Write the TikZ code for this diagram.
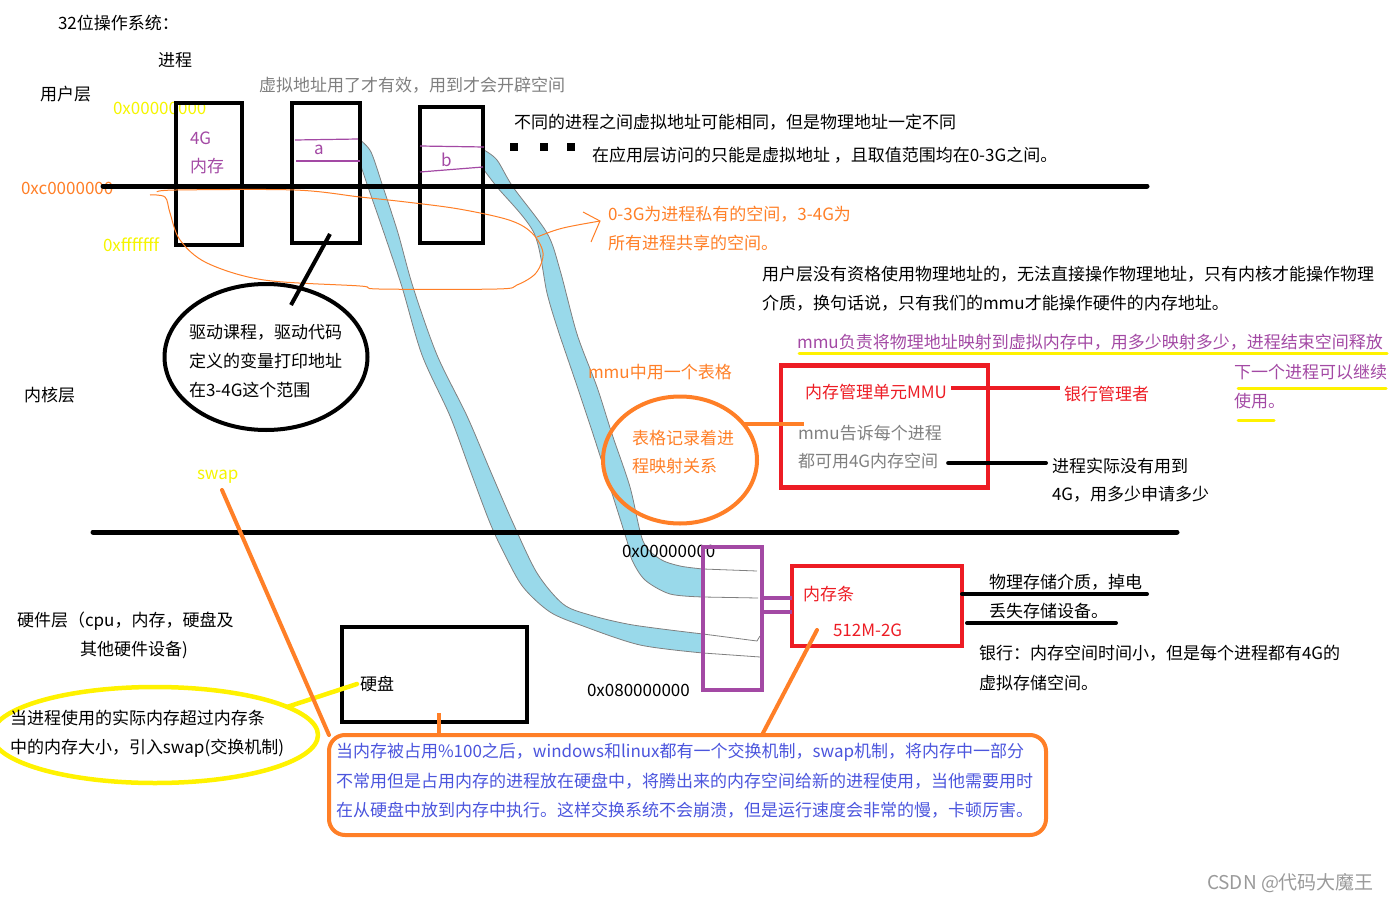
\documentclass[tikz,border=0pt]{standalone}
\usepackage{fontspec}
\setmainfont{Noto Sans CJK SC}
\usetikzlibrary{shapes.geometric}
\definecolor{cPur}{HTML}{A349A4}
\definecolor{cOr}{HTML}{FF7F27}
\definecolor{cRed}{HTML}{ED1C24}
\definecolor{cYel}{HTML}{FFF200}
\definecolor{cYtx}{HTML}{F5F500}
\definecolor{cBand}{HTML}{99D9EA}
\definecolor{cGray}{HTML}{7F7F7F}
\definecolor{cBlu}{HTML}{4B55DD}
\definecolor{cWm}{HTML}{9A9A9A}
\begin{document}
\begin{tikzpicture}[x=1pt,y=-1pt,
  every node/.style={inner sep=0pt,outer sep=0pt},
  t/.style={anchor=west,font=\fontsize{17}{20}\selectfont},
  frame/.style={draw,line width=4.5pt},
  band/.style={fill=cBand,draw=gray,line width=0.8pt},
  thk/.style={line width=5pt,line cap=round},
  orthin/.style={draw=cOr,line width=1pt},
  orthk/.style={draw=cOr,line width=4pt,line cap=round},
  ylthk/.style={draw=cYel,line width=4.5pt,line cap=round}]
\useasboundingbox (0,0) rectangle (1393,902);

% blue ribbons
\filldraw[band] plot[smooth,tension=0.5] coordinates {(360,140) (371,152) (383,187) (398,233) (413,287) (437,355) (467,416) (490,470) (513,523) (537,573) (563,604) (590,615) (633,625) (703,634)}
  -- plot[smooth,tension=0.5] coordinates {(703,653) (640,645) (583,626) (550,612) (523,587) (505,555) (490,523) (470,470) (450,416) (422,355) (402,287) (384,233) (368,187) (360,163)} -- cycle;
\filldraw[band] plot[smooth,tension=0.5] coordinates {(484,150) (497,160) (513,187) (547,233) (560,270) (577,334) (597,387) (612,434) (630,487) (643,541) (660,559) (680,566) (703,569)}
  -- plot[smooth,tension=0.5] coordinates {(703,597) (670,594) (645,580) (632,560) (627,541) (610,487) (593,434) (575,380) (558,330) (547,293) (534,233) (497,187) (484,170)} -- cycle;
\draw[gray,line width=0.8pt] (703,569) -- (757,571);
\draw[gray,line width=0.8pt] (703,597) -- (758,598);
\draw[gray,line width=0.8pt] (703,634) -- (757,641) -- (760,636);
\draw[gray,line width=0.8pt] (703,653) -- (760,657);

% top texts
\node[t] (title) at (58,23) {32位操作系统：};
\node[t] (proc) at (158,60) {进程};
\node[t] (user) at (40,94) {用户层};
\node[t,text=cGray] (virt) at (259,85) {虚拟地址用了才有效，用到才会开辟空间};
\node[t,text=cYtx] (a0) at (113,108) {0x00000000};
\node[t,text=cOr] (ac) at (21,188) {0xc0000000};
\node[t,text=cYtx] (af) at (103,245) {0xfffffff};

% process boxes
\node[frame,minimum width=66,minimum height=142] (p1) at (209,174) {};
\node[frame,minimum width=68,minimum height=140] (p2) at (326,173) {};
\node[frame,minimum width=63,minimum height=136] (p3) at (451.5,175) {};
\node[t,text=cPur] (g4) at (190,138) {4G};
\node[t,text=cPur] (nc) at (190,166) {内存};
\draw[cPur,line width=1.2pt] (295,140) -- (358,139);
\draw[cPur,line width=1.2pt] (296,161) -- (360,161);
\node[t,text=cPur] (la) at (314,150) {\itshape a};
\draw[cPur,line width=1.2pt] (420,146) -- (484,147);
\draw[cPur,line width=1.2pt] (420,172) -- (483,167);
\node[t,text=cPur] (lb) at (441,160) {b};

% dots
\fill (510,143) rectangle (518,151);
\fill (540,143) rectangle (548,151);
\fill (567,143) rectangle (575,151);

\node[t] (diff) at (514,122) {不同的进程之间虚拟地址可能相同，但是物理地址一定不同};
\node[t] (app) at (592,155) {在应用层访问的只能是虚拟地址 ，且取值范围均在0-3G之间。};

% main separating lines
\draw[thk] (103,186) -- (1147,186);
\draw[thk] (93,532) -- (1177,532);

% orange lasso and arrow
\draw[orthin] plot[smooth,tension=0.55] coordinates {(157,192) (176,190) (295,190) (360,197) (406,202) (459,209) (509,220) (532,233) (543,253) (536,273) (517,285) (497,289) (379,289) (360,286) (264,280) (207,263) (180,240) (170,213) (165,197) (150,195)};
\node[t,text=cOr] (priv1) at (608,214) {0-3G为进程私有的空间，3-4G为};
\node[t,text=cOr] (priv2) at (608,243) {所有进程共享的空间。};
\coordinate (arS) at (537,237);
\coordinate (arT) at (600,221);
\draw[orthin] (arS) .. controls (560,228) .. (arT);
\draw[orthin] (583,212) -- (arT) -- (591,242);

\node[t] (ul1) at (762,274) {用户层没有资格使用物理地址的，无法直接操作物理地址，只有内核才能操作物理};
\node[t] (ul2) at (762,303) {介质，换句话说，只有我们的mmu才能操作硬件的内存地址。};

% purple notes with yellow underline
\node[t,text=cPur] (mm1) at (797,342) {mmu负责将物理地址映射到虚拟内存中，用多少映射多少，进程结束空间释放};
\node[t,text=cPur] (mm2) at (1234,372) {下一个进程可以继续};
\node[t,text=cPur] (mm3) at (1234,401) {使用。};
\draw[cYel,line width=3pt,line cap=round] (799,353) -- (1387,353);
\draw[cYel,line width=3pt,line cap=round] (1238,388) -- (1386,388);
\draw[cYel,line width=3pt,line cap=round] (1238,420) -- (1274,420);

% kernel ellipse
\node[draw,ellipse,line width=4pt,minimum width=203,minimum height=146] (kell) at (266,357) {};
\node[t] (k1) at (189,332) {驱动课程，驱动代码};
\node[t] (k2) at (189,361) {定义的变量打印地址};
\node[t] (k3) at (189,390) {在3-4G这个范围};
\coordinate (kt) at (291,305);
\coordinate (kb) at (330,234);
\draw[line width=4pt] (kt) -- (kb);
\node[t] (kern) at (24,395) {内核层};

% MMU area
\node[t,text=cOr] (mmut) at (588,372) {mmu中用一个表格};
\node[draw=cOr,ellipse,line width=4pt,minimum width=154,minimum height=127] (oell) at (680,460) {};
\node[t,text=cOr] (o1) at (632,438) {表格记录着进};
\node[t,text=cOr] (o2) at (632,466) {程映射关系};
\node[draw=cRed,line width=4.5pt,minimum width=207,minimum height=122] (mmu) at (884.5,426.5) {};
\draw[cOr,line width=4pt] (oell.30) -- ++(61,0);
\node[t,text=cRed] (mmun) at (805,392) {内存管理单元MMU};
\node[t,text=cRed] (bank) at (1064,394) {银行管理者};
\draw[cRed,line width=4pt] ([xshift=4pt,yshift=4pt]mmun.east) -- ([xshift=-4pt,yshift=6pt]bank.west);
\node[t,text=cGray] (mt1) at (798,433) {mmu告诉每个进程};
\node[t,text=cGray] (mt2) at (798,461) {都可用4G内存空间};
\node[t] (r1) at (1052,466) {进程实际没有用到};
\node[t] (r2) at (1052,494) {4G，用多少申请多少};
\draw[line width=4pt,line cap=round] ([xshift=10pt,yshift=-2pt]mt2.east) -- ([xshift=-6pt,yshift=3pt]r1.west);

% swap
\node[t,text=cYtx] (swapt) at (197,477) {swap};

% physical memory
\node[t] (pa0) at (622,551) {0x00000000};
\node[frame,draw=cPur,minimum width=59,minimum height=143] (phys) at (732.5,618.5) {};
\node[t] (pa8) at (587,690) {0x080000000};
\node[draw=cRed,line width=4.5pt,minimum width=170,minimum height=80] (mem) at (877,606) {};
\draw[cPur,line width=4pt] (phys.east |- 0,598) -- (mem.west |- 0,598);
\draw[cPur,line width=4pt] (phys.east |- 0,612) -- (mem.west |- 0,612);
\node[t,text=cRed] (memt) at (803,594) {内存条};
\node[t,text=cRed] (memsz) at (833,630) {512M-2G};
\node[t] (ph1) at (989,582) {物理存储介质，掉电};
\node[t] (ph2) at (989,611) {丢失存储设备。};
\draw[line width=4pt,line cap=round] (mem.east |- 0,594) -- (1147,594);
\draw[line width=4pt,line cap=round] (967,623) -- (1116,623);
\node[t] (bk1) at (979,653) {银行：内存空间时间小，但是每个进程都有4G的};
\node[t] (bk2) at (979,683) {虚拟存储空间。};

% hardware
\node[t] (hw1) at (17,621) {硬件层（cpu，内存，硬盘及};
\node[t] (hw2) at (80,650) {其他硬件设备)};
\node[frame,minimum width=185,minimum height=95] (disk) at (434.5,674.5) {};
\node[t] (diskt) at (360,684) {硬盘};

% yellow ellipse
\node[draw=cYel,ellipse,line width=4.5pt,minimum width=326,minimum height=96] (yell) at (155,735) {};
\node[t] (y1) at (10,718) {当进程使用的实际内存超过内存条};
\node[t] (y2) at (10,748) {中的内存大小，引入swap(交换机制)};
\draw[ylthk] (yell.12) -- ([xshift=-3pt]diskt.west);

% orange explanation box
\node[draw=cOr,line width=4pt,rounded corners=16pt,minimum width=717,minimum height=100] (obox) at (687.5,785) {};
\node[t,text=cBlu] (ob1) at (336,752) {当内存被占用\%100之后，windows和linux都有一个交换机制，swap机制，将内存中一部分};
\node[t,text=cBlu] (ob2) at (336,781) {不常用但是占用内存的进程放在硬盘中，将腾出来的内存空间给新的进程使用，当他需要用时};
\node[t,text=cBlu] (ob3) at (336,810) {在从硬盘中放到内存中执行。这样交换系统不会崩溃，但是运行速度会非常的慢，卡顿厉害。};

\coordinate (swS) at (222,490);
\draw[orthk] (swS) -- (obox.north west);
\coordinate (dk) at (439,713);
\draw[cOr,line width=4pt] (dk) -- (obox.north -| dk);
\coordinate (mk) at (817,630);
\draw[orthk] (mk) -- (obox.north -| 762,0);

\node[t,text=cWm,font=\fontsize{19}{22}\selectfont] (wm) at (1207,883) {CSDN @代码大魔王};
\end{tikzpicture}
\end{document}
